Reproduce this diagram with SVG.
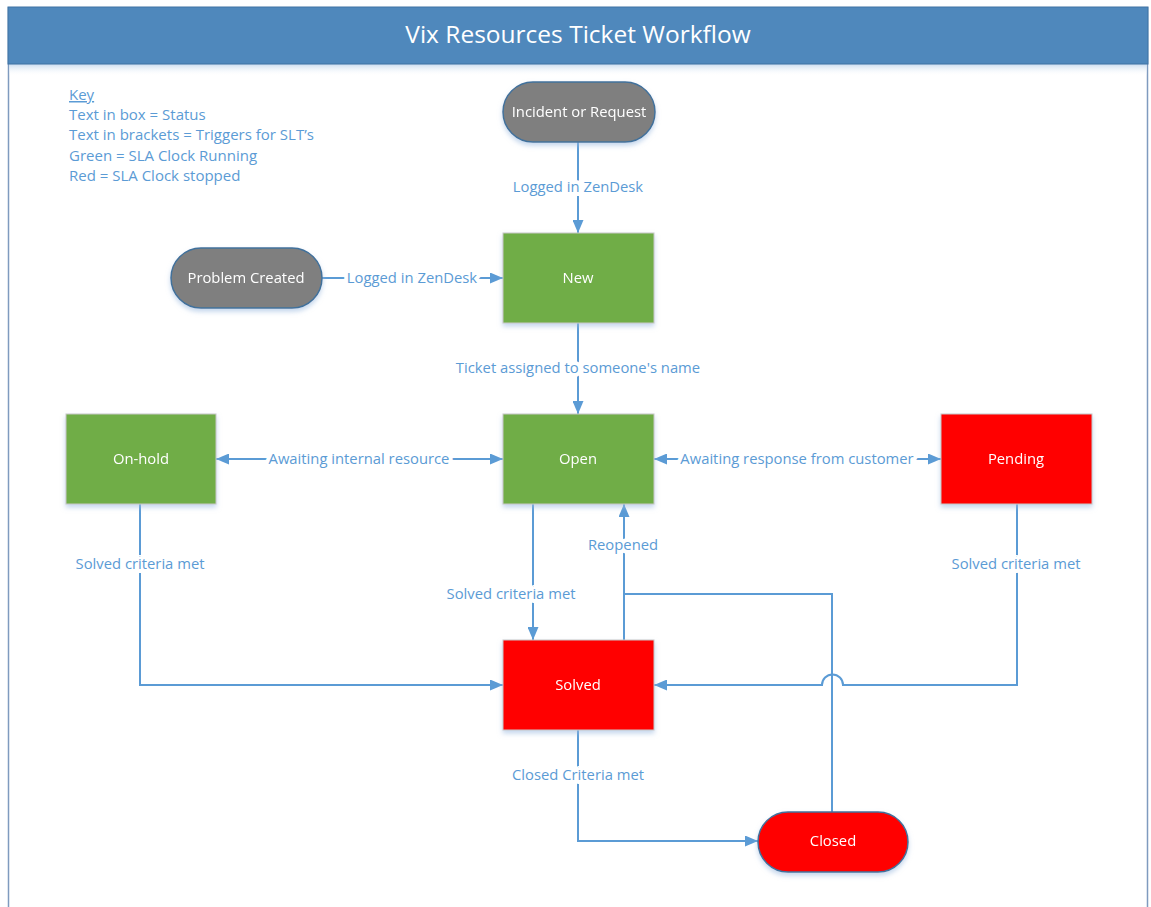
<svg xmlns="http://www.w3.org/2000/svg" width="1151" height="907" viewBox="0 0 1151 907">
  <defs>
    <linearGradient id="headerFade" x1="0" y1="0" x2="0" y2="1">
      <stop offset="0" stop-color="#c9dcef"/>
      <stop offset="1" stop-color="#ffffff" stop-opacity="0"/>
    </linearGradient>
    <filter id="shadow" x="-20%" y="-20%" width="140%" height="150%">
      <feGaussianBlur in="SourceAlpha" stdDeviation="2.5"/>
      <feOffset dx="0" dy="3" result="b"/>
      <feFlood flood-color="#9dbbe0" flood-opacity="0.6"/>
      <feComposite in2="b" operator="in"/>
      <feMerge><feMergeNode/><feMergeNode in="SourceGraphic"/></feMerge>
    </filter>
    <marker id="arrow" viewBox="0 0 13 11" refX="13" refY="5.5" markerWidth="13" markerHeight="11" markerUnits="userSpaceOnUse" orient="auto-start-reverse">
      <path d="M0,0 L13,5.5 L0,11 Z" fill="#5b9bd5"/>
    </marker>
    <style>
      .title { font-family: "Open Sans", "Liberation Sans", sans-serif; font-size: 24.5px; fill: #ffffff; }
      .key { font-family: "Open Sans", "Liberation Sans", sans-serif; font-size: 15px; fill: #5b9bd5; }
      .lbl { font-family: "Open Sans", "Liberation Sans", sans-serif; font-size: 14.8px; fill: #5b9bd5; text-anchor: middle; dominant-baseline: central; paint-order: stroke; stroke: #ffffff; stroke-width: 8px; stroke-linejoin: round; }
      .ntext { font-family: "Open Sans", "Liberation Sans", sans-serif; font-size: 14.8px; fill: #ffffff; text-anchor: middle; dominant-baseline: central; }
      .conn { fill: none; stroke: #5b9bd5; stroke-width: 2; }
      .pill-grey { fill: #7f7f7f; stroke: #41719c; stroke-width: 1.5; }
      .pill-red { fill: #ff0000; stroke: #41719c; stroke-width: 1.5; }
      .box-green { fill: #70ad47; stroke: #c8c8c8; stroke-width: 1; }
      .box-red { fill: #ff0000; stroke: #c8c8c8; stroke-width: 1; }
    </style>
  </defs>

  <!-- page frame and title bar -->
  <g id="frame">
    <rect x="0" y="0" width="1151" height="907" fill="#ffffff"/>
    <line x1="8.5" y1="7" x2="8.5" y2="907" stroke="#7f9bbf" stroke-width="1.5"/>
    <line x1="1147.5" y1="7" x2="1147.5" y2="907" stroke="#7f9bbf" stroke-width="1.5"/>
    <rect x="9" y="64" width="1138" height="12" fill="url(#headerFade)"/>
    <rect x="8" y="7" width="1140" height="57" fill="#4f88bc" stroke="#3f72a3" stroke-width="1"/>
    <text class="title" x="578" y="43" text-anchor="middle">Vix Resources Ticket Workflow</text>
  </g>

  <!-- legend -->
  <g id="key">
    <text class="key" x="69" y="100" text-decoration="underline">Key</text>
    <text class="key" x="69" y="120">Text in box = Status</text>
    <text class="key" x="69" y="140">Text in brackets = Triggers for SLT’s</text>
    <text class="key" x="69" y="161">Green = SLA Clock Running</text>
    <text class="key" x="69" y="181">Red = SLA Clock stopped</text>
  </g>

  <!-- connectors -->
  <g id="connectors">
    <path class="conn" d="M578,142 V233" marker-end="url(#arrow)"/>
    <path class="conn" d="M322,278 H503" marker-end="url(#arrow)"/>
    <path class="conn" d="M578,323 V414" marker-end="url(#arrow)"/>
    <path class="conn" d="M216,459 H503" marker-start="url(#arrow)" marker-end="url(#arrow)"/>
    <path class="conn" d="M654,459 H941" marker-start="url(#arrow)" marker-end="url(#arrow)"/>
    <path class="conn" d="M533,504 V640" marker-end="url(#arrow)"/>
    <path class="conn" d="M624,640 V504" marker-end="url(#arrow)"/>
    <path class="conn" d="M832,812 V594 H624"/>
    <path class="conn" d="M140,504 V685 H503" marker-end="url(#arrow)"/>
    <path class="conn" d="M1017,504 V685 H843 A10.5,10.5 0 0 0 822,685 H654" marker-end="url(#arrow)"/>
    <path class="conn" d="M578,730 V841 H758" marker-end="url(#arrow)"/>

    <text class="lbl" x="578" y="186">Logged in ZenDesk</text>
    <text class="lbl" x="412" y="277">Logged in ZenDesk</text>
    <text class="lbl" x="578" y="367">Ticket assigned to someone's name</text>
    <text class="lbl" x="359" y="458">Awaiting internal resource</text>
    <text class="lbl" x="797" y="458">Awaiting response from customer</text>
    <text class="lbl" x="511" y="593">Solved criteria met</text>
    <text class="lbl" x="623" y="544">Reopened</text>
    <text class="lbl" x="140" y="563">Solved criteria met</text>
    <text class="lbl" x="1016" y="563">Solved criteria met</text>
    <text class="lbl" x="578" y="774">Closed Criteria met</text>
  </g>

  <!-- nodes -->
  <g id="incident" filter="url(#shadow)">
    <rect class="pill-grey" x="503" y="82" width="152" height="60" rx="30"/>
    <text class="ntext" x="579" y="111">Incident or Request</text>
  </g>
  <g id="problem" filter="url(#shadow)">
    <rect class="pill-grey" x="171" y="248" width="151" height="60" rx="30"/>
    <text class="ntext" x="246" y="277">Problem Created</text>
  </g>
  <g id="new" filter="url(#shadow)">
    <rect class="box-green" x="503" y="233" width="151" height="90"/>
    <text class="ntext" x="578" y="277">New</text>
  </g>
  <g id="open" filter="url(#shadow)">
    <rect class="box-green" x="503" y="414" width="151" height="90"/>
    <text class="ntext" x="578" y="458">Open</text>
  </g>
  <g id="on-hold" filter="url(#shadow)">
    <rect class="box-green" x="66" y="414" width="150" height="90"/>
    <text class="ntext" x="141" y="458">On-hold</text>
  </g>
  <g id="pending" filter="url(#shadow)">
    <rect class="box-red" x="941" y="414" width="151" height="90"/>
    <text class="ntext" x="1016" y="458">Pending</text>
  </g>
  <g id="solved" filter="url(#shadow)">
    <rect class="box-red" x="503" y="640" width="151" height="90"/>
    <text class="ntext" x="578" y="684">Solved</text>
  </g>
  <g id="closed" filter="url(#shadow)">
    <rect class="pill-red" x="758" y="812" width="150" height="60" rx="30"/>
    <text class="ntext" x="833" y="840">Closed</text>
  </g>
</svg>
